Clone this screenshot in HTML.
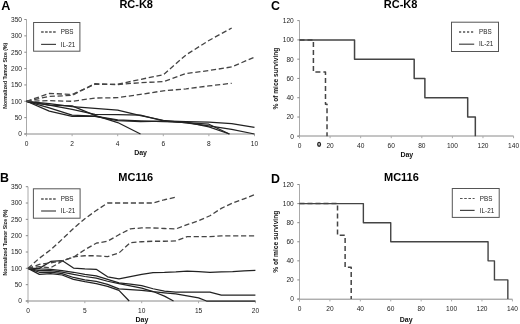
<!DOCTYPE html>
<html><head><meta charset="utf-8"><style>
html,body{margin:0;padding:0;background:#fff;}
body{width:520px;height:324px;overflow:hidden;}
svg{display:block;will-change:transform;font-family:"Liberation Sans",sans-serif;}
</style></head><body>
<svg width="520" height="324" viewBox="0 0 520 324">
<rect width="520" height="324" fill="#fff"/>
<text x="1.3" y="9.5" font-size="12.6" text-anchor="start" font-weight="bold" fill="#000">A</text>
<text x="136.2" y="7.8" font-size="11" text-anchor="middle" font-weight="bold" fill="#000">RC-K8</text>
<line x1="26.5" y1="19.5" x2="26.5" y2="136.2" stroke="#aaa" stroke-width="1"/>
<line x1="24.3" y1="134" x2="254.5" y2="134" stroke="#8a8a8a" stroke-width="1"/>
<line x1="24.3" y1="134" x2="26.5" y2="134" stroke="#8a8a8a" stroke-width="1"/>
<text x="22" y="136.35" font-size="6.6" text-anchor="end" fill="#222">0</text>
<line x1="24.3" y1="117.64" x2="26.5" y2="117.64" stroke="#8a8a8a" stroke-width="1"/>
<text x="22" y="119.99" font-size="6.6" text-anchor="end" fill="#222">50</text>
<line x1="24.3" y1="101.29" x2="26.5" y2="101.29" stroke="#8a8a8a" stroke-width="1"/>
<text x="22" y="103.64" font-size="6.6" text-anchor="end" fill="#222">100</text>
<line x1="24.3" y1="84.94" x2="26.5" y2="84.94" stroke="#8a8a8a" stroke-width="1"/>
<text x="22" y="87.28" font-size="6.6" text-anchor="end" fill="#222">150</text>
<line x1="24.3" y1="68.58" x2="26.5" y2="68.58" stroke="#8a8a8a" stroke-width="1"/>
<text x="22" y="70.93" font-size="6.6" text-anchor="end" fill="#222">200</text>
<line x1="24.3" y1="52.22" x2="26.5" y2="52.22" stroke="#8a8a8a" stroke-width="1"/>
<text x="22" y="54.57" font-size="6.6" text-anchor="end" fill="#222">250</text>
<line x1="24.3" y1="35.87" x2="26.5" y2="35.87" stroke="#8a8a8a" stroke-width="1"/>
<text x="22" y="38.22" font-size="6.6" text-anchor="end" fill="#222">300</text>
<line x1="24.3" y1="19.52" x2="26.5" y2="19.52" stroke="#8a8a8a" stroke-width="1"/>
<text x="22" y="21.87" font-size="6.6" text-anchor="end" fill="#222">350</text>
<line x1="26.5" y1="134" x2="26.5" y2="136.2" stroke="#aaa" stroke-width="1"/>
<text x="26.5" y="145.55" font-size="6.6" text-anchor="middle" fill="#222">0</text>
<line x1="72.1" y1="134" x2="72.1" y2="136.2" stroke="#aaa" stroke-width="1"/>
<text x="72.1" y="145.55" font-size="6.6" text-anchor="middle" fill="#222">2</text>
<line x1="117.7" y1="134" x2="117.7" y2="136.2" stroke="#aaa" stroke-width="1"/>
<text x="117.7" y="145.55" font-size="6.6" text-anchor="middle" fill="#222">4</text>
<line x1="163.3" y1="134" x2="163.3" y2="136.2" stroke="#aaa" stroke-width="1"/>
<text x="163.3" y="145.55" font-size="6.6" text-anchor="middle" fill="#222">6</text>
<line x1="208.9" y1="134" x2="208.9" y2="136.2" stroke="#aaa" stroke-width="1"/>
<text x="208.9" y="145.55" font-size="6.6" text-anchor="middle" fill="#222">8</text>
<line x1="254.5" y1="134" x2="254.5" y2="136.2" stroke="#aaa" stroke-width="1"/>
<text x="254.5" y="145.55" font-size="6.6" text-anchor="middle" fill="#222">10</text>
<text x="140.6" y="154.8" font-size="7" text-anchor="middle" font-weight="bold" fill="#111">Day</text>
<text transform="translate(7.1,75.75) rotate(-90)" font-size="5.15" text-anchor="middle" font-weight="bold" fill="#111">Normalized Tumor Size (%)</text>
<rect x="33.6" y="22.5" width="46.3" height="28.7" fill="#fff" stroke="#555" stroke-width="1"/>
<polyline points="41.1,32 56,32" fill="none" stroke="#555" stroke-width="1.5" stroke-dasharray="2.6,1.4" stroke-linejoin="round"/>
<polyline points="41.1,44.4 56,44.4" fill="none" stroke="#444" stroke-width="1.2" stroke-linejoin="round"/>
<text x="60.8" y="34.2" font-size="6.3" text-anchor="start" fill="#222">PBS</text>
<text x="60.8" y="46.6" font-size="6.3" text-anchor="start" fill="#222">IL-21</text>
<polyline points="26.5,101.29 49.3,105.22 72.1,109.47 94.9,114.37 117.7,114.7 140.5,115.03 163.3,120.92 186.1,121.57 208.9,122.22 231.7,123.53 254.5,127.46" fill="none" stroke="#222" stroke-width="1.25" stroke-linejoin="round"/>
<polyline points="26.5,101.29 49.3,103.58 72.1,106.52 94.9,108.49 117.7,110.12 140.5,115.68 163.3,120.26 186.1,122.88 208.9,125.99 231.7,129.42 254.5,134" fill="none" stroke="#222" stroke-width="1.25" stroke-linejoin="round"/>
<polyline points="26.5,101.29 49.3,105.22 72.1,105.87 94.9,115.36 117.7,122.55 140.5,134" fill="none" stroke="#222" stroke-width="1.25" stroke-linejoin="round"/>
<polyline points="26.5,101.29 49.3,107.83 72.1,115.03 94.9,116.01 117.7,119.93 140.5,120.92 163.3,121.57 186.1,122.22 208.9,126.8 229.42,134" fill="none" stroke="#222" stroke-width="1.25" stroke-linejoin="round"/>
<polyline points="26.5,101.29 49.3,111.1 72.1,116.34 94.9,116.34 117.7,120.59 140.5,121.57 163.3,121.24 186.1,122.55 208.9,124.19 229.42,134" fill="none" stroke="#222" stroke-width="1.25" stroke-linejoin="round"/>
<polyline points="26.5,101.29 49.3,93.44 72.1,94.42 94.9,84.28 117.7,84.28 140.5,79.37 163.3,74.79 186.1,54.84 208.9,40.45 231.7,28.02" fill="none" stroke="#444" stroke-width="1.3" stroke-dasharray="5.2,2.7" stroke-linejoin="round"/>
<polyline points="26.5,101.29 49.3,96.38 72.1,95.4 94.9,83.63 117.7,84.61 140.5,82.65 163.3,81.66 186.1,73.49 208.9,70.54 231.7,66.94 254.5,57.13" fill="none" stroke="#444" stroke-width="1.3" stroke-dasharray="5.2,2.7" stroke-linejoin="round"/>
<polyline points="26.5,101.29 49.3,100.64 72.1,101.29 94.9,98.02 117.7,97.69 140.5,94.42 163.3,90.82 186.1,88.86 208.9,85.92 231.7,83.3" fill="none" stroke="#444" stroke-width="1.3" stroke-dasharray="5.2,2.7" stroke-linejoin="round"/>
<text x="-0.1" y="182" font-size="12.4" text-anchor="start" font-weight="bold" fill="#000">B</text>
<text x="135.8" y="181.4" font-size="11" text-anchor="middle" font-weight="bold" fill="#000">MC116</text>
<line x1="28" y1="186.7" x2="28" y2="303.2" stroke="#aaa" stroke-width="1"/>
<line x1="25.8" y1="301" x2="255.5" y2="301" stroke="#8a8a8a" stroke-width="1"/>
<line x1="25.8" y1="301" x2="28" y2="301" stroke="#8a8a8a" stroke-width="1"/>
<text x="22" y="303.35" font-size="6.6" text-anchor="end" fill="#222">0</text>
<line x1="25.8" y1="284.67" x2="28" y2="284.67" stroke="#8a8a8a" stroke-width="1"/>
<text x="22" y="287.02" font-size="6.6" text-anchor="end" fill="#222">50</text>
<line x1="25.8" y1="268.34" x2="28" y2="268.34" stroke="#8a8a8a" stroke-width="1"/>
<text x="22" y="270.69" font-size="6.6" text-anchor="end" fill="#222">100</text>
<line x1="25.8" y1="252.01" x2="28" y2="252.01" stroke="#8a8a8a" stroke-width="1"/>
<text x="22" y="254.36" font-size="6.6" text-anchor="end" fill="#222">150</text>
<line x1="25.8" y1="235.68" x2="28" y2="235.68" stroke="#8a8a8a" stroke-width="1"/>
<text x="22" y="238.03" font-size="6.6" text-anchor="end" fill="#222">200</text>
<line x1="25.8" y1="219.35" x2="28" y2="219.35" stroke="#8a8a8a" stroke-width="1"/>
<text x="22" y="221.7" font-size="6.6" text-anchor="end" fill="#222">250</text>
<line x1="25.8" y1="203.02" x2="28" y2="203.02" stroke="#8a8a8a" stroke-width="1"/>
<text x="22" y="205.37" font-size="6.6" text-anchor="end" fill="#222">300</text>
<line x1="25.8" y1="186.69" x2="28" y2="186.69" stroke="#8a8a8a" stroke-width="1"/>
<text x="22" y="189.04" font-size="6.6" text-anchor="end" fill="#222">350</text>
<line x1="28" y1="301" x2="28" y2="303.2" stroke="#aaa" stroke-width="1"/>
<text x="28" y="313.25" font-size="6.6" text-anchor="middle" fill="#222">0</text>
<line x1="84.85" y1="301" x2="84.85" y2="303.2" stroke="#aaa" stroke-width="1"/>
<text x="84.85" y="313.25" font-size="6.6" text-anchor="middle" fill="#222">5</text>
<line x1="141.7" y1="301" x2="141.7" y2="303.2" stroke="#aaa" stroke-width="1"/>
<text x="141.7" y="313.25" font-size="6.6" text-anchor="middle" fill="#222">10</text>
<line x1="198.55" y1="301" x2="198.55" y2="303.2" stroke="#aaa" stroke-width="1"/>
<text x="198.55" y="313.25" font-size="6.6" text-anchor="middle" fill="#222">15</text>
<line x1="255.4" y1="301" x2="255.4" y2="303.2" stroke="#aaa" stroke-width="1"/>
<text x="255.4" y="313.25" font-size="6.6" text-anchor="middle" fill="#222">20</text>
<text x="141.9" y="322" font-size="7" text-anchor="middle" font-weight="bold" fill="#111">Day</text>
<text transform="translate(7.1,242.5) rotate(-90)" font-size="5.15" text-anchor="middle" font-weight="bold" fill="#111">Normalized Tumor Size (%)</text>
<rect x="33.4" y="188.8" width="46.7" height="29.4" fill="#fff" stroke="#555" stroke-width="1"/>
<polyline points="41.1,199 56,199" fill="none" stroke="#555" stroke-width="1.5" stroke-dasharray="2.6,1.4" stroke-linejoin="round"/>
<polyline points="41.1,211 56,211" fill="none" stroke="#444" stroke-width="1.2" stroke-linejoin="round"/>
<text x="60.8" y="201.2" font-size="6.3" text-anchor="start" fill="#222">PBS</text>
<text x="60.8" y="213.2" font-size="6.3" text-anchor="start" fill="#222">IL-21</text>
<polyline points="28,268.34 39.37,268.34 50.74,261.48 62.11,260.6 73.48,268.01 84.85,268.83 96.22,269.32 107.59,276.83 118.96,278.79 130.33,276.67 141.7,274.38 153.07,272.59 164.44,272.39 175.81,271.93 187.18,271.08 198.55,271.61 209.92,272.26 221.29,271.93 232.66,271.61 244.03,270.95 255.4,270.4" fill="none" stroke="#222" stroke-width="1.25" stroke-linejoin="round"/>
<polyline points="28,268.34 39.37,268.99 50.74,269.32 62.11,270.63 73.48,272.26 84.85,274.38 96.22,275.85 107.59,279.44 118.96,282.81 130.33,284.02 141.7,285.65 153.07,288.75 164.44,291.04 175.81,292.18 187.18,292.05 198.55,292.05 209.92,292.05 221.29,295.12 232.66,295.12 244.03,295.12 255.4,295.12" fill="none" stroke="#222" stroke-width="1.25" stroke-linejoin="round"/>
<polyline points="28,268.34 39.37,270.63 50.74,270.63 62.11,272.1 73.48,274.38 84.85,276.5 96.22,278.14 107.59,281.24 118.96,283.53 130.33,285.81 141.7,288.1 153.07,291.53 164.44,292.83 175.81,293.95 187.18,295.77 198.55,297.93 206.51,301 255.4,301" fill="none" stroke="#222" stroke-width="1.25" stroke-linejoin="round"/>
<polyline points="28,268.34 39.37,272.26 50.74,272.1 62.11,273.57 73.48,277.48 84.85,279.77 96.22,281.4 107.59,284.34 118.96,288.92 130.33,289.57 141.7,290.35 153.07,291.53 164.44,296.1 173.54,301" fill="none" stroke="#222" stroke-width="1.25" stroke-linejoin="round"/>
<polyline points="28,268.34 39.37,274.38 50.74,273.57 62.11,275 73.48,279.44 84.85,281.73 96.22,283.69 107.59,286.3 118.96,290.35 129.19,301" fill="none" stroke="#222" stroke-width="1.25" stroke-linejoin="round"/>
<polyline points="28,268.34 39.37,258.22 50.74,249.72 62.11,239.27 73.48,228.49 84.85,218.7 96.22,210.53 107.59,203.02 118.96,203.02 130.33,203.02 141.7,203.02 153.07,203.02 164.44,199.75 175.81,197.14" fill="none" stroke="#444" stroke-width="1.3" stroke-dasharray="5.2,2.7" stroke-linejoin="round"/>
<polyline points="28,268.34 39.37,264.42 50.74,262.79 62.11,260.83 73.48,257.24 84.85,249.72 96.22,243.19 107.59,241.23 118.96,234.7 130.33,228.82 141.7,227.97 153.07,227.97 164.44,228.49 175.81,228.95 187.18,224.58 198.55,220.79 209.92,215.76 221.29,208.38 232.66,203.02 244.03,198.77 255.4,194.37" fill="none" stroke="#444" stroke-width="1.3" stroke-dasharray="5.2,2.7" stroke-linejoin="round"/>
<polyline points="28,268.34 39.37,266.71 50.74,267.69 62.11,261.15 73.48,256.91 84.85,255.77 96.22,255.77 107.59,256.58 118.96,252.99 130.33,242.67 141.7,241.75 153.07,241.23 164.44,241.23 175.81,240.97 187.18,236.66 198.55,236.66 209.92,236.66 221.29,235.81 232.66,235.81 244.03,235.81 255.4,235.81" fill="none" stroke="#444" stroke-width="1.3" stroke-dasharray="5.2,2.7" stroke-linejoin="round"/>
<text x="271.1" y="10" font-size="12.4" text-anchor="start" font-weight="bold" fill="#000">C</text>
<text x="400.6" y="7.8" font-size="11" text-anchor="middle" font-weight="bold" fill="#000">RC-K8</text>
<line x1="299.5" y1="20.6" x2="299.5" y2="138.2" stroke="#aaa" stroke-width="1"/>
<line x1="297.3" y1="136" x2="513.6" y2="136" stroke="#8a8a8a" stroke-width="1"/>
<line x1="297.3" y1="136.3" x2="299.5" y2="136.3" stroke="#8a8a8a" stroke-width="1"/>
<text x="293.8" y="138.65" font-size="6.6" text-anchor="end" fill="#222">0</text>
<line x1="297.3" y1="117.02" x2="299.5" y2="117.02" stroke="#8a8a8a" stroke-width="1"/>
<text x="293.8" y="119.37" font-size="6.6" text-anchor="end" fill="#222">20</text>
<line x1="297.3" y1="97.73" x2="299.5" y2="97.73" stroke="#8a8a8a" stroke-width="1"/>
<text x="293.8" y="100.08" font-size="6.6" text-anchor="end" fill="#222">40</text>
<line x1="297.3" y1="78.45" x2="299.5" y2="78.45" stroke="#8a8a8a" stroke-width="1"/>
<text x="293.8" y="80.8" font-size="6.6" text-anchor="end" fill="#222">60</text>
<line x1="297.3" y1="59.16" x2="299.5" y2="59.16" stroke="#8a8a8a" stroke-width="1"/>
<text x="293.8" y="61.51" font-size="6.6" text-anchor="end" fill="#222">80</text>
<line x1="297.3" y1="39.88" x2="299.5" y2="39.88" stroke="#8a8a8a" stroke-width="1"/>
<text x="293.8" y="42.23" font-size="6.6" text-anchor="end" fill="#222">100</text>
<line x1="297.3" y1="20.6" x2="299.5" y2="20.6" stroke="#8a8a8a" stroke-width="1"/>
<text x="293.8" y="22.95" font-size="6.6" text-anchor="end" fill="#222">120</text>
<line x1="299.5" y1="136" x2="299.5" y2="138.2" stroke="#aaa" stroke-width="1"/>
<text x="299.5" y="147.95" font-size="6.6" text-anchor="middle" fill="#222">0</text>
<line x1="330.08" y1="136" x2="330.08" y2="138.2" stroke="#aaa" stroke-width="1"/>
<text x="330.08" y="147.95" font-size="6.6" text-anchor="middle" fill="#222">20</text>
<line x1="360.66" y1="136" x2="360.66" y2="138.2" stroke="#aaa" stroke-width="1"/>
<text x="360.66" y="147.95" font-size="6.6" text-anchor="middle" fill="#222">40</text>
<line x1="391.24" y1="136" x2="391.24" y2="138.2" stroke="#aaa" stroke-width="1"/>
<text x="391.24" y="147.95" font-size="6.6" text-anchor="middle" fill="#222">60</text>
<line x1="421.82" y1="136" x2="421.82" y2="138.2" stroke="#aaa" stroke-width="1"/>
<text x="421.82" y="147.95" font-size="6.6" text-anchor="middle" fill="#222">80</text>
<line x1="452.4" y1="136" x2="452.4" y2="138.2" stroke="#aaa" stroke-width="1"/>
<text x="452.4" y="147.95" font-size="6.6" text-anchor="middle" fill="#222">100</text>
<line x1="482.98" y1="136" x2="482.98" y2="138.2" stroke="#aaa" stroke-width="1"/>
<text x="482.98" y="147.95" font-size="6.6" text-anchor="middle" fill="#222">120</text>
<line x1="513.56" y1="136" x2="513.56" y2="138.2" stroke="#aaa" stroke-width="1"/>
<text x="513.56" y="147.95" font-size="6.6" text-anchor="middle" fill="#222">140</text>
<text x="406.8" y="156.9" font-size="7" text-anchor="middle" font-weight="bold" fill="#111">Day</text>
<text transform="translate(277.9,78.6) rotate(-90)" font-size="6.6" text-anchor="middle" font-weight="bold" fill="#111">% of mice surviving</text>
<rect x="451.5" y="22.2" width="47" height="29.3" fill="#fff" stroke="#555" stroke-width="1"/>
<polyline points="459,32 474.2,32" fill="none" stroke="#555" stroke-width="1.5" stroke-dasharray="2.2,1.8" stroke-linejoin="round"/>
<polyline points="459,44.2 474.2,44.2" fill="none" stroke="#444" stroke-width="1.2" stroke-linejoin="round"/>
<text x="479" y="34.2" font-size="6.3" text-anchor="start" fill="#222">PBS</text>
<text x="479" y="46.4" font-size="6.3" text-anchor="start" fill="#222">IL-21</text>
<polyline points="299.5,39.88 354.54,39.88 354.54,59.16 414.18,59.16 414.18,78.45 424.88,78.45 424.88,97.73 467.69,97.73 467.69,117.02 475.33,117.02 475.33,136.3" fill="none" stroke="#444" stroke-width="1.5" stroke-linejoin="round"/>
<polyline points="299.5,39.88 313.41,39.88 313.41,71.99 325.49,71.99 325.49,104.19 327.02,104.19 327.02,136.3" fill="none" stroke="#444" stroke-width="1.5" stroke-dasharray="5,3" stroke-linejoin="round"/>
<ellipse cx="319.1" cy="144.3" rx="1.35" ry="1.95" fill="none" stroke="#222" stroke-width="1.4"/>
<text x="271.1" y="182.6" font-size="12.4" text-anchor="start" font-weight="bold" fill="#000">D</text>
<text x="401.4" y="181.1" font-size="11" text-anchor="middle" font-weight="bold" fill="#000">MC116</text>
<line x1="299.5" y1="184.5" x2="299.5" y2="301.4" stroke="#aaa" stroke-width="1"/>
<line x1="297.3" y1="299.2" x2="512.5" y2="299.2" stroke="#8a8a8a" stroke-width="1"/>
<line x1="297.3" y1="299" x2="299.5" y2="299" stroke="#8a8a8a" stroke-width="1"/>
<text x="293.8" y="301.35" font-size="6.6" text-anchor="end" fill="#222">0</text>
<line x1="297.3" y1="279.92" x2="299.5" y2="279.92" stroke="#8a8a8a" stroke-width="1"/>
<text x="293.8" y="282.27" font-size="6.6" text-anchor="end" fill="#222">20</text>
<line x1="297.3" y1="260.84" x2="299.5" y2="260.84" stroke="#8a8a8a" stroke-width="1"/>
<text x="293.8" y="263.19" font-size="6.6" text-anchor="end" fill="#222">40</text>
<line x1="297.3" y1="241.76" x2="299.5" y2="241.76" stroke="#8a8a8a" stroke-width="1"/>
<text x="293.8" y="244.11" font-size="6.6" text-anchor="end" fill="#222">60</text>
<line x1="297.3" y1="222.68" x2="299.5" y2="222.68" stroke="#8a8a8a" stroke-width="1"/>
<text x="293.8" y="225.03" font-size="6.6" text-anchor="end" fill="#222">80</text>
<line x1="297.3" y1="203.6" x2="299.5" y2="203.6" stroke="#8a8a8a" stroke-width="1"/>
<text x="293.8" y="205.95" font-size="6.6" text-anchor="end" fill="#222">100</text>
<line x1="297.3" y1="184.52" x2="299.5" y2="184.52" stroke="#8a8a8a" stroke-width="1"/>
<text x="293.8" y="186.87" font-size="6.6" text-anchor="end" fill="#222">120</text>
<line x1="299.5" y1="299.2" x2="299.5" y2="301.4" stroke="#aaa" stroke-width="1"/>
<text x="299.5" y="311.35" font-size="6.6" text-anchor="middle" fill="#222">0</text>
<line x1="329.91" y1="299.2" x2="329.91" y2="301.4" stroke="#aaa" stroke-width="1"/>
<text x="329.91" y="311.35" font-size="6.6" text-anchor="middle" fill="#222">20</text>
<line x1="360.33" y1="299.2" x2="360.33" y2="301.4" stroke="#aaa" stroke-width="1"/>
<text x="360.33" y="311.35" font-size="6.6" text-anchor="middle" fill="#222">40</text>
<line x1="390.74" y1="299.2" x2="390.74" y2="301.4" stroke="#aaa" stroke-width="1"/>
<text x="390.74" y="311.35" font-size="6.6" text-anchor="middle" fill="#222">60</text>
<line x1="421.16" y1="299.2" x2="421.16" y2="301.4" stroke="#aaa" stroke-width="1"/>
<text x="421.16" y="311.35" font-size="6.6" text-anchor="middle" fill="#222">80</text>
<line x1="451.57" y1="299.2" x2="451.57" y2="301.4" stroke="#aaa" stroke-width="1"/>
<text x="451.57" y="311.35" font-size="6.6" text-anchor="middle" fill="#222">100</text>
<line x1="481.98" y1="299.2" x2="481.98" y2="301.4" stroke="#aaa" stroke-width="1"/>
<text x="481.98" y="311.35" font-size="6.6" text-anchor="middle" fill="#222">120</text>
<line x1="512.4" y1="299.2" x2="512.4" y2="301.4" stroke="#aaa" stroke-width="1"/>
<text x="512.4" y="311.35" font-size="6.6" text-anchor="middle" fill="#222">140</text>
<text x="406.2" y="322" font-size="7" text-anchor="middle" font-weight="bold" fill="#111">Day</text>
<text transform="translate(277.9,241.7) rotate(-90)" font-size="6.6" text-anchor="middle" font-weight="bold" fill="#111">% of mice surviving</text>
<rect x="452.3" y="188.5" width="46.9" height="28.9" fill="#fff" stroke="#555" stroke-width="1"/>
<polyline points="460,198.5 474.6,198.5" fill="none" stroke="#555" stroke-width="1.1" stroke-dasharray="2.6,1.6" stroke-linejoin="round"/>
<polyline points="460,210.4 474.6,210.4" fill="none" stroke="#444" stroke-width="1.2" stroke-linejoin="round"/>
<text x="479.8" y="200.7" font-size="6.3" text-anchor="start" fill="#222">PBS</text>
<text x="479.8" y="212.6" font-size="6.3" text-anchor="start" fill="#222">IL-21</text>
<polyline points="299.5,203.6 363.37,203.6 363.37,222.68 390.74,222.68 390.74,241.76 488.07,241.76 488.07,260.84 494.45,260.84 494.45,279.92 507.84,279.92 507.84,299" fill="none" stroke="#444" stroke-width="1.4" stroke-linejoin="round"/>
<polyline points="299.5,203.6 337.52,203.6 337.52,235.37 345.12,235.37 345.12,267.23 351.2,267.23 351.2,299" fill="none" stroke="#444" stroke-width="1.5" stroke-dasharray="5,3" stroke-linejoin="round"/>
</svg>
</body></html>
